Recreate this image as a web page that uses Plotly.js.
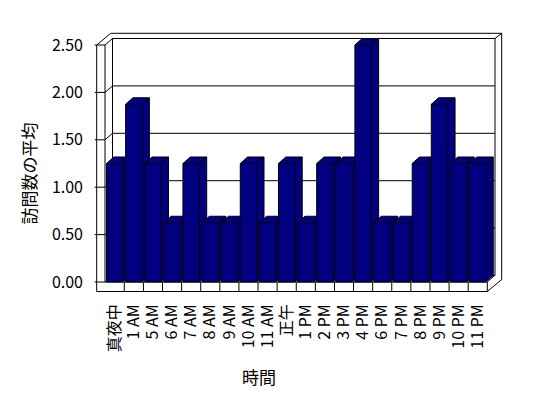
<!DOCTYPE html>
<html>
<head>
<meta charset="utf-8">
<script src="https://cdn.plot.ly/plotly-3.0.1.min.js"></script>
<style>html,body{margin:0;padding:0;background:#fff;}#chart{width:548px;height:398px;}</style>
</head>
<body>
<div id="chart"></div>
<script>
// ---- data ----
const categories = ['真夜中','1 AM','5 AM','6 AM','7 AM','8 AM','9 AM','10 AM','11 AM','正午','1 PM','2 PM','3 PM','4 PM','6 PM','7 PM','8 PM','9 PM','10 PM','11 PM'];
const values = [1.25,1.875,1.25,0.625,1.25,0.625,0.625,1.25,0.625,1.25,0.625,1.25,1.25,2.5,0.625,0.625,1.25,1.875,1.25,1.25];
const yTickVals = [0,0.5,1,1.5,2,2.5];
const yTickText = ['0.00','0.50','1.00','1.50','2.00','2.50'];
const xTitle = '時間';
const yTitle = '訪問数の平均';

// ---- geometry (pixels) ----
const W = 548, H = 398;
const L = 94, R = 504, T = 30, B = 295;
const c0 = 114.75, cw = 19.105;   // category centre / width in px
const z0 = 282, up = 94.8;         // value 0 px / px per unit
const DXp = 7.3, DYp = 6.5;        // depth offset px
const xmin = -(c0 - L) / cw, xmax = xmin + (R - L) / cw;
const ymax = (z0 - T) / up, ymin = ymax - (B - T) / up;
const px2x = p => (p - c0) / cw;
const py2y = p => (z0 - p) / up;
const dx = DXp / cw, dy = DYp / up;
const hw = 0.43;

const traces = [];
values.forEach((v, i) => {
  const x0 = i - hw, x1 = i + hw;
  traces.push({
    type: 'scatter', mode: 'lines', fill: 'toself', fillcolor: '#000080',
    x: [x0, x0, x0 + dx, x1 + dx, x1 + dx, x1, x0],
    y: [0, v, v + dy, v + dy, dy, 0, 0],
    line: {color: '#000', width: 1}, hoverinfo: 'skip', showlegend: false
  });
  traces.push({
    type: 'scatter', mode: 'lines',
    x: [x0, x1, x1, null, x1, x1 + dx],
    y: [v, v, 0, null, v, v + dy],
    line: {color: '#000', width: 1}, hoverinfo: 'skip', showlegend: false
  });
});

// ---- frame (pixel segments) ----
const fl = 96.7, fi = 105, bl = 112.5, br = 495, orr = 501.7, topO = 33.3, bandB = 291.5, bandR = 487.3;
const yf = v => z0 - up * v, yb = v => yf(v) - DYp;
const segs = [
  [fl, yf(2.5), fl, bandB],
  [fi, yf(2.5), fi, z0],
  [fl, bandB, bandR, bandB],
  [fi, z0, bandR, z0],
  [bandR, z0, bandR, bandB],
  [bandR, bandB, orr, bandB - 12],
  [bandR, z0, bandR + DXp, z0 - DYp],
  [orr, topO, orr, bandB - 12],
  [br, yb(2.5), br, yb(0)],
  [110.7, topO, orr, topO],
  [fl, yf(2.5), 110.7, topO],
  [br, yb(2.5), orr, topO],
  [bl, yb(2.5), bl, yb(0)]
];
yTickVals.forEach(v => {
  segs.push([fl - 2, yf(v), fi, yf(v)]);
  segs.push([fi, yf(v), bl, yb(v)]);
  segs.push([bl, yb(v), br, yb(v)]);
});
for (let i = 1; i < categories.length; i++) {
  const bx = c0 + cw * (i - 0.5);
  segs.push([bx, z0, bx, bandB]);
}
const shapes = segs.map(s => ({
  type: 'line', xref: 'x', yref: 'y', layer: 'below',
  x0: px2x(s[0]), y0: py2y(s[1]), x1: px2x(s[2]), y1: py2y(s[3]),
  line: {color: '#000', width: 1}
}));

const font = {family: '"Noto Sans CJK JP", "Noto Sans", sans-serif', color: '#000'};
const layout = {
  width: W, height: H,
  margin: {l: L, r: W - R, t: T, b: H - B, pad: 0},
  paper_bgcolor: '#fff', plot_bgcolor: '#fff',
  showlegend: false,
  font: Object.assign({size: 16}, font),
  xaxis: {
    range: [xmin, xmax], showgrid: false, zeroline: false, showline: false,
    tickmode: 'array', tickvals: categories.map((c, i) => i), ticktext: categories,
    tickangle: -90, ticks: '', ticklabelstandoff: 5,
    tickfont: Object.assign({size: 16}, font), fixedrange: true
  },
  yaxis: {
    range: [ymin, ymax], showgrid: false, zeroline: false, showline: false,
    tickmode: 'array', tickvals: yTickVals, ticktext: yTickText,
    ticks: '', ticklabelstandoff: 10,
    tickfont: Object.assign({size: 16}, font), fixedrange: true
  },
  shapes: shapes,
  annotations: [
    {text: xTitle, xref: 'paper', yref: 'paper', x: (259 - L) / (R - L), y: (H - 376 - (H - B)) / (B - T),
     xanchor: 'center', yanchor: 'middle', showarrow: false, font: Object.assign({size: 17}, font)},
    {text: yTitle, xref: 'paper', yref: 'paper', x: (27.5 - L) / (R - L), y: (H - 174 - (H - B)) / (B - T),
     xanchor: 'center', yanchor: 'middle', textangle: -90, showarrow: false, font: Object.assign({size: 17}, font)}
  ]
};
Plotly.newPlot('chart', traces, layout, {staticPlot: true, displayModeBar: false});
</script>
</body>
</html>
